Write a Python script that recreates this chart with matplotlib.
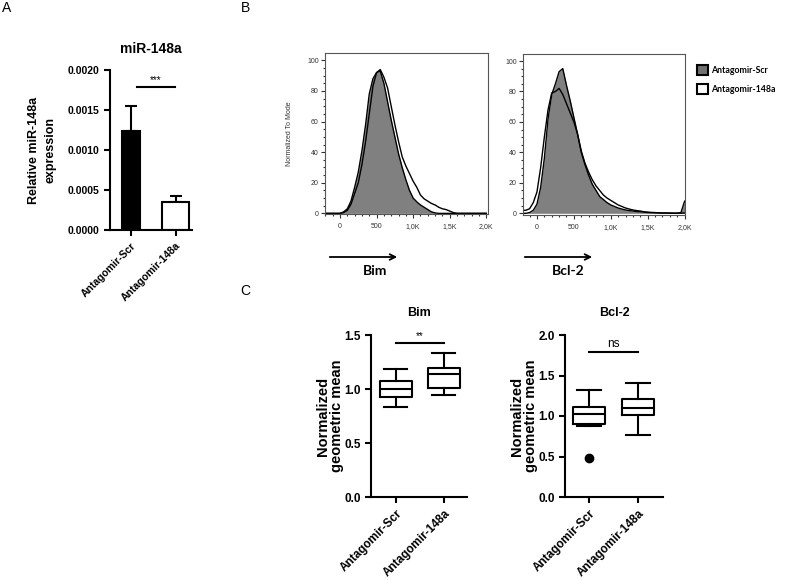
import numpy as np
import matplotlib
matplotlib.use('Agg')
import matplotlib.pyplot as plt
from matplotlib.patches import Patch
from matplotlib.ticker import MultipleLocator, FormatStrFormatter, FixedLocator, FixedFormatter

plt.rcParams['font.family'] = ['Liberation Sans', 'DejaVu Sans']

# ---- data ----
groups = ['Antagomir-Scr', 'Antagomir-148a']

# panel A: relative miR-148a expression
mir_mean = [0.00124, 0.00035]
mir_err = [0.00031, 0.00007]

# panel B: flow histograms (normalized to mode)
hist_x = [-200, -150, -100, -50, 0, 50, 100, 150, 200, 250, 300, 350, 400, 450,
          500, 550, 600, 650, 700, 750, 800, 850, 900, 950, 1000, 1050, 1100,
          1150, 1200, 1250, 1300, 1350, 1400, 1450, 1500, 1550, 1600, 1650,
          1700, 1750, 1800, 1850, 1900, 1950, 2000]
bim_scr = [0, 0, 0, 0, 0, 1, 3, 8, 17, 27, 41, 58, 78, 88,
           92, 93, 85, 73, 61, 50, 39, 30, 22, 15, 10, 7.5, 5.5,
           4, 2.5, 1, 0.3, 0, 0, 0, 0, 0, 0, 0,
           0, 0, 0, 0, 0, 0, 0]
bim_148a = [0, 0, 0, 0, 0, 0.5, 2, 6, 13, 20, 32, 47, 65, 83,
            92, 94, 89, 82, 70, 58, 47, 37, 31, 26, 21, 17, 12,
            9.5, 8, 6.5, 5.5, 4, 3, 2.5, 1.5, 0.5, 0, 0,
            0, 0, 0, 0, 0, 0, 0]
bcl_scr = [0, 0, 0.5, 2, 6, 17, 36, 62, 78, 85, 93, 95, 84, 74,
           63, 52, 40, 32, 25, 19, 15, 11, 9, 7, 5.5, 4.5, 3.5,
           2.8, 2.2, 1.8, 1.5, 1.2, 1, 0.8, 0.5, 0.4, 0.3, 0.3,
           0.2, 0.2, 0.2, 0.1, 0.1, 0.5, 8]
bcl_148a = [2, 2, 3, 7, 14, 30, 50, 68, 79, 80, 82, 78, 72, 66,
            60, 52, 41, 33, 27, 22, 18, 15, 12, 10, 8.5, 7, 5.5,
            4.5, 3.5, 2.8, 2.2, 1.8, 1.5, 1, 0.8, 0.6, 0.5, 0.3,
            0.2, 0.2, 0.1, 0.1, 0.1, 0.1, 0.2]
hist_ticks = [0, 500, 1000, 1500, 2000]
hist_ticklabels = ['0', '500', '1,0K', '1,5K', '2,0K']

# panel C: box plot stats (normalized geometric mean)
bim_med = [0.996, 1.138]
bim_q1 = [0.922, 1.005]
bim_q3 = [1.073, 1.19]
bim_lo = [0.83, 0.943]
bim_hi = [1.185, 1.336]
bim_fl = [[], []]

bcl_med = [1.023, 1.10]
bcl_q1 = [0.907, 1.01]
bcl_q3 = [1.105, 1.208]
bcl_lo = [0.874, 0.763]
bcl_hi = [1.32, 1.402]
bcl_fl = [[0.482], []]

W, H = 789, 581
fig = plt.figure(figsize=(W / 100, H / 100), dpi=100)


def px(l, t, r, b):
    return [l / W, 1 - b / H, (r - l) / W, (b - t) / H]


def prism_style(ax, size=8):
    for s in ['top', 'right']:
        ax.spines[s].set_visible(False)
    for s in ['left', 'bottom']:
        ax.spines[s].set_linewidth(1.5)
    ax.tick_params(direction='out', length=4, width=1.5, labelsize=size)
    for lab in ax.get_yticklabels() + ax.get_xticklabels():
        lab.set_fontweight('bold')


# ---- panel A ----
ax = fig.add_axes(px(110, 70, 192, 230))
xs = [0, 1]
ax.bar(xs, mir_mean, width=[0.42, 0.62], color=['black', 'white'],
       edgecolor='black', linewidth=1.5, zorder=2)
for x, m, e in zip(xs, mir_mean, mir_err):
    ax.errorbar(x, m, yerr=[[0], [e]], color='black', lw=1.5, capsize=4.5,
                capthick=1.5, zorder=1)
ax.set_xlim(-0.47, 1.37)
ax.set_ylim(0, 0.002)
ax.yaxis.set_major_locator(MultipleLocator(0.0005))
ax.yaxis.set_major_formatter(FormatStrFormatter('%.4f'))
ax.set_xticks(xs)
ax.set_xticklabels(groups, rotation=45, ha='right', rotation_mode='anchor')
prism_style(ax, 7.5)
ax.plot([0.13, 0.99], [0.00179, 0.00179], color='black', lw=1.5, clip_on=False)
ax.text(0.56, 0.00181, '***', ha='center', va='bottom', fontsize=7)
ax.set_title('miR-148a', fontsize=10, fontweight='bold', pad=12)
ax.set_ylabel('Relative miR-148a\nexpression', fontsize=9, fontweight='bold',
              labelpad=8, linespacing=1.5)

# ---- panel B ----
def flow_hist(rect, y_scr, y_148, xlim, ylim, ylabel=None):
    a = fig.add_axes(px(*rect))
    a.fill_between(hist_x, y_scr, color='#808080', lw=0)
    a.plot(hist_x, y_scr, color='black', lw=1)
    a.plot(hist_x, y_148, color='black', lw=1)
    a.set_xlim(*xlim)
    a.set_ylim(*ylim)
    a.xaxis.set_major_locator(FixedLocator(hist_ticks))
    a.xaxis.set_major_formatter(FixedFormatter(hist_ticklabels))
    a.xaxis.set_minor_locator(MultipleLocator(100))
    a.yaxis.set_major_locator(MultipleLocator(20))
    a.yaxis.set_minor_locator(MultipleLocator(5))
    a.tick_params(which='both', direction='out', width=0.8, labelsize=5,
                  labelcolor='#333333', color='#333333')
    a.tick_params(which='major', length=3)
    a.tick_params(which='minor', length=1.5)
    a.tick_params(axis='y', pad=1.5)
    for s in a.spines.values():
        s.set_linewidth(0.8)
        s.set_color('#555555')
    if ylabel:
        a.set_ylabel(ylabel, fontsize=5, color='#333333', labelpad=10)
    return a


flow_hist((325, 53, 488, 214), bim_scr, bim_148a, (-205, 2023), (-0.4, 104.8),
          'Normalized To Mode')
axb2 = flow_hist((523, 54, 685, 215), bcl_scr, bcl_148a, (-189, 2005), (-1.1, 104.6))

handles = [Patch(facecolor='#707070', edgecolor='black', lw=1.5),
           Patch(facecolor='white', edgecolor='black', lw=1.5)]
fig.legend(handles, groups, loc='upper left',
           bbox_to_anchor=(689 / W, 1 - 57 / H), frameon=False,
           handlelength=1.25, handleheight=1.35, handletextpad=0.4,
           labelspacing=1.1,
           prop={'family': 'Lato', 'weight': 'bold', 'size': 6.3})

for x0, x1, xc, lab in [(327, 400, 375, 'Bim'), (522, 595, 568, 'Bcl-2')]:
    fig.add_artist(matplotlib.patches.FancyArrowPatch(
        (x0 / W, 1 - 257 / H), (x1 / W, 1 - 257 / H),
        transform=fig.transFigure, arrowstyle='->', mutation_scale=10,
        lw=1.3, color='black'))
    fig.text(xc / W, 1 - 271 / H, lab, ha='center', va='center',
             fontsize=10, fontweight='bold', family='Lato')

# ---- panel C ----
def box_panel(rect, med, q1, q3, lo, hi, fl, xlim, ymax, title, sig, sig_y):
    a = fig.add_axes(px(*rect))
    stats = []
    for i in range(2):
        stats.append({'med': med[i], 'q1': q1[i], 'q3': q3[i],
                      'whislo': lo[i], 'whishi': hi[i], 'fliers': fl[i]})
    lp = {'color': 'black', 'linewidth': 1.5}
    a.bxp(stats, positions=[0, 1], widths=0.67, capwidths=0.48,
          boxprops=lp, whiskerprops=lp, capprops=lp, medianprops=lp,
          flierprops={'marker': 'o', 'markerfacecolor': 'black',
                      'markeredgecolor': 'black', 'markersize': 6})
    a.set_xlim(*xlim)
    a.set_ylim(0, ymax)
    a.yaxis.set_major_locator(MultipleLocator(0.5))
    a.yaxis.set_major_formatter(FormatStrFormatter('%.1f'))
    a.set_xticks([0, 1])
    a.set_xticklabels(groups, rotation=45, ha='right', rotation_mode='anchor')
    prism_style(a, 8.5)
    a.plot([0, 1], [sig_y, sig_y], color='black', lw=1.5, clip_on=False)
    a.text(0.5, sig_y + ymax * 0.012, sig, ha='center', va='bottom',
           fontsize=8.5 if sig == 'ns' else 7)
    a.set_title(title, fontsize=9, fontweight='bold', pad=14)
    a.set_ylabel('Normalized\ngeometric mean', fontsize=10.5, fontweight='bold',
                 labelpad=0, linespacing=1.0)
    return a


box_panel((371, 335, 467, 497), bim_med, bim_q1, bim_q3, bim_lo, bim_hi, bim_fl,
          (-0.52, 1.48), 1.5, 'Bim', '**', 1.423)
box_panel((565, 335, 663, 497), bcl_med, bcl_q1, bcl_q3, bcl_lo, bcl_hi, bcl_fl,
          (-0.49, 1.51), 2.0, 'Bcl-2', 'ns', 1.786)

# panel letters
fig.text(2 / W, 1 - 8 / H, 'A', fontsize=10, va='center', ha='left')
fig.text(241 / W, 1 - 8 / H, 'B', fontsize=10, va='center', ha='left')
fig.text(240 / W, 1 - 291 / H, 'C', fontsize=10, va='center', ha='left')

fig.savefig('out.png', dpi=100)
